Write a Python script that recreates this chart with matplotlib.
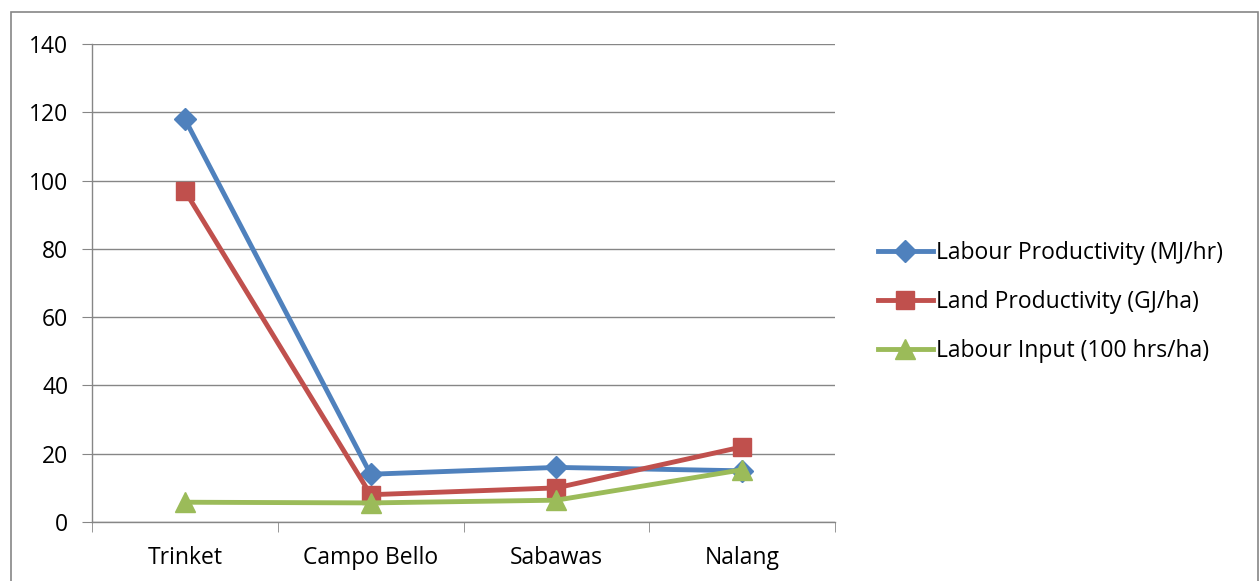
import matplotlib.pyplot as plt
from matplotlib.patches import Rectangle

categories = ["Trinket", "Campo Bello", "Sabawas", "Nalang"]
labour_productivity = [118, 14, 16, 15]
land_productivity = [97, 8, 10, 22]
labour_input = [5.8, 5.6, 6.4, 15.3]

series = [
    ("Labour Productivity (MJ/hr)", labour_productivity, "#4F81BD", "D", 11),
    ("Land Productivity (GJ/ha)", land_productivity, "#C0504D", "s", 13),
    ("Labour Input (100 hrs/ha)", labour_input, "#9BBB59", "^", 14),
]

plt.rcParams["font.family"] = ["Open Sans", "DejaVu Sans"]

fig = plt.figure(figsize=(12.59, 5.81), dpi=100)
ax = fig.add_axes([0.0731, 0.1015, 0.5901, 0.8227])

# outer chart border
fig.patches.append(Rectangle((11 / 1259, -0.01), 1247 / 1259, 1 - 12 / 581 + 0.01,
                             transform=fig.transFigure, fill=False,
                             edgecolor="#868686", linewidth=1.2))

x = range(len(categories))
for label, vals, color, marker, ms in series:
    ax.plot(x, vals, color=color, linewidth=3.5, marker=marker, markersize=ms,
            label=label, solid_joinstyle="round")

ax.set_xlim(-0.5, len(categories) - 0.5)
ax.set_ylim(0, 140)
ax.set_yticks(range(0, 141, 20))
ax.set_xticks(list(x))
ax.set_xticklabels(categories)
ax.set_xticks([i - 0.5 for i in range(len(categories) + 1)], minor=True)

ax.grid(axis="y", color="#868686", linewidth=1)
ax.set_axisbelow(True)
for side in ["top", "right"]:
    ax.spines[side].set_visible(False)
for side in ["left", "bottom"]:
    ax.spines[side].set_color("#868686")
    ax.spines[side].set_linewidth(1)

ax.tick_params(axis="x", which="major", length=0, labelsize=16.5, pad=17)
ax.tick_params(axis="x", which="minor", length=7, color="#868686", direction="out")
ax.tick_params(axis="y", length=7, color="#868686", labelsize=16.5, pad=10)

ax.legend(loc="center left", bbox_to_anchor=(1.03, 0.46), frameon=False,
          fontsize=16.5, handlelength=2.4, handletextpad=0.15, labelspacing=1.1)

fig.savefig("out.png", dpi=100)
